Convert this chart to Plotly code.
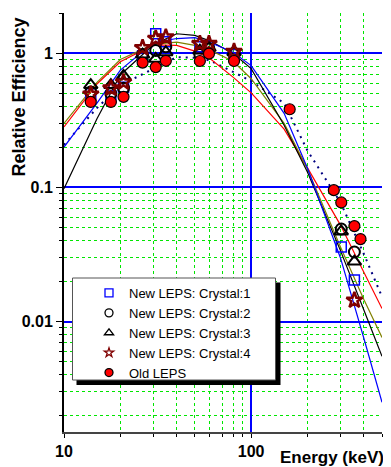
import math
import plotly.graph_objects as go

# ---- data ----
energy_new = [13.9, 17.8, 20.8, 26.3, 30.9, 35.0, 53.2, 59.5, 81.0, 302.9, 356.0]
crystal1 = [0.50, 0.48, 0.56, 0.96, 1.40, 1.22, 1.12, 1.14, 0.98, 0.036, 0.0204]
crystal2 = [0.515, 0.50, 0.55, 0.98, 1.05, 1.12, 0.98, 1.08, 1.00, 0.049, 0.033]
crystal3 = [0.58, 0.58, 0.68, 0.98, 0.91, 1.02, 1.05, 1.10, 1.02, 0.047, 0.028]
crystal4 = [0.495, 0.55, 0.61, 1.10, 1.29, 1.32, 1.18, 1.18, 1.03, None, 0.0144]

energy_old = [13.9, 17.8, 20.8, 26.3, 30.9, 35.0, 53.2, 59.5, 81.0, 160.6, 276.4, 302.9, 356.0, 383.8]
old_leps = [0.434, 0.434, 0.474, 0.853, 0.79, 0.88, 0.877, 0.995, 0.877, 0.383, 0.0955, 0.0773, 0.0515, 0.0412]

fit_energy = [10, 15, 20, 30, 40, 50, 60, 80, 100, 150, 200, 300, 400, 500]
fit_blue = [0.20, 0.425, 0.75, 1.20, 1.29, 1.31, 1.21, 1.02, 0.81, 0.357, 0.139, 0.0298, 0.0075, 0.0025]
fit_black = [0.098, 0.325, 0.69, 1.16, 1.40, 1.36, 1.24, 1.00, 0.77, 0.291, 0.130, 0.0338, 0.0122, 0.0055]
fit_olive = [0.30, 0.608, 0.90, 1.167, 1.214, 1.147, 1.062, 0.873, 0.647, 0.301, 0.137, 0.0359, 0.0146, 0.0076]
fit_red = [0.283, 0.591, 0.865, 1.155, 1.147, 1.04, 0.92, 0.665, 0.507, 0.272, 0.14, 0.0524, 0.0233, 0.0125]
fit_old = [0.208, 0.391, 0.578, 0.773, 0.937, 0.926, 0.887, 0.728, 0.62, 0.425, 0.188, 0.0773, 0.0319, 0.0153]

legend_names = ["New LEPS: Crystal:1", "New LEPS: Crystal:2", "New LEPS: Crystal:3",
                "New LEPS: Crystal:4", "Old LEPS"]

FONT = "Liberation Sans, Arial, sans-serif"

fig = go.Figure()

# fitted curves
for vals, col, dash, w in [(fit_old, "#000080", "2px,5px", 2),
                           (fit_red, "#ff0000", "solid", 1.2),
                           (fit_olive, "#808000", "solid", 1.2),
                           (fit_black, "#000000", "solid", 1.2),
                           (fit_blue, "#0000ff", "solid", 1.2)]:
    fig.add_trace(go.Scatter(x=fit_energy, y=vals, mode="lines",
                             line=dict(color=col, width=w, dash=dash),
                             showlegend=False, hoverinfo="skip"))

# measured points
styles = [
    (crystal1, "square-open", "#0000ff", 10, 1.5),
    (crystal2, "circle-open", "#000000", 11, 2),
    (crystal3, "triangle-up-open", "#000000", 12, 2),
    (crystal4, "star-open", "#800000", 12, 2.5),
]
for vals, sym, col, size, lw in styles:
    fig.add_trace(go.Scatter(x=energy_new, y=vals, mode="markers",
                             marker=dict(symbol=sym, size=size, color=col,
                                         line=dict(color=col, width=lw)),
                             showlegend=False))
fig.add_trace(go.Scatter(x=energy_old, y=old_leps, mode="markers",
                         marker=dict(symbol="circle", size=11, color="#ff0000",
                                     line=dict(color="#000000", width=1.2)),
                         showlegend=False))

# legend entries
leg_styles = [("square-open", "#0000ff", "#0000ff", 8),
              ("circle-open", "#000000", "#000000", 8),
              ("triangle-up-open", "#000000", "#000000", 8),
              ("star-open", "#800000", "#800000", 7),
              ("circle", "#ff0000", "#000000", 8)]
for name, (sym, col, lcol, sz) in zip(legend_names, leg_styles):
    fig.add_trace(go.Scatter(x=[None], y=[None], mode="markers", name=name,
                             marker=dict(symbol=sym, size=sz, color=col,
                                         line=dict(color=lcol, width=1.3))))

# the page shows the figure offset by the 8px body margin
OFF = 8
W, H = 391 - OFF, 467 - OFF
L, R, T, B = 64 - OFF, 9, 13 - OFF, 35
pw, ph = W - L - R, H - T - B


def px(xp):  # page pixel -> paper x
    return (xp - OFF - L) / pw


def py(yp):  # page pixel -> paper y
    return (H - B - (yp - OFF)) / ph


fig.update_layout(
    width=W, height=H,
    margin=dict(l=L, r=R, t=T, b=B),
    paper_bgcolor="white", plot_bgcolor="white",
    font=dict(family=FONT, color="black"),
    legend=dict(x=px(89), y=py(278), xanchor="left", yanchor="top",
                bgcolor="rgba(0,0,0,0)", borderwidth=0,
                font=dict(family=FONT, size=13, color="black")),
    shapes=[
        dict(type="rect", xref="paper", yref="paper", layer="above",
             x0=px(76.5), x1=px(280.5), y0=py(385), y1=py(282.5),
             fillcolor="black", line=dict(width=0)),
        dict(type="rect", xref="paper", yref="paper", layer="above",
             x0=px(72.5), x1=px(275.5), y0=py(380), y1=py(278),
             fillcolor="white", line=dict(color="#555555", width=1)),
    ],
    annotations=[
        dict(text="Relative Efficiency", xref="paper", yref="paper",
             x=px(18.5), y=py(97), textangle=-90, showarrow=False,
             xanchor="center", yanchor="middle",
             font=dict(family=FONT, size=18, weight="bold")),
        dict(text="Energy (keV)", xref="paper", yref="paper",
             x=px(332), y=py(457), showarrow=False,
             xanchor="center", yanchor="middle",
             font=dict(family=FONT, size=17, weight="bold")),
    ],
)

fig.update_xaxes(
    type="log", range=[1, math.log10(500)], dtick=1,
    showgrid=True, gridcolor="#0000ff", gridwidth=1.5,
    showline=True, linecolor="#444444", linewidth=2,
    ticks="outside", ticklen=4, tickcolor="black",
    tickfont=dict(family=FONT, size=16, weight="bold"),
    zeroline=False, layer="below traces",
    minor=dict(dtick="D1", showgrid=True, gridcolor="#00e600", griddash="dot",
               gridwidth=1, ticks="outside", ticklen=3, tickcolor="black"),
)
fig.update_yaxes(
    type="log", range=[math.log10(0.0015), math.log10(2)], dtick=1,
    showgrid=True, gridcolor="#0000ff", gridwidth=1.5,
    showline=True, linecolor="black", linewidth=2,
    ticks="outside", ticklen=6, tickcolor="black",
    tickfont=dict(family=FONT, size=16, weight="bold"),
    zeroline=False, layer="below traces",
    minor=dict(dtick="D1", showgrid=True, gridcolor="#00e600", griddash="dot",
               gridwidth=1, ticks="outside", ticklen=3, tickcolor="black"),
)

fig.write_html("out.html")
